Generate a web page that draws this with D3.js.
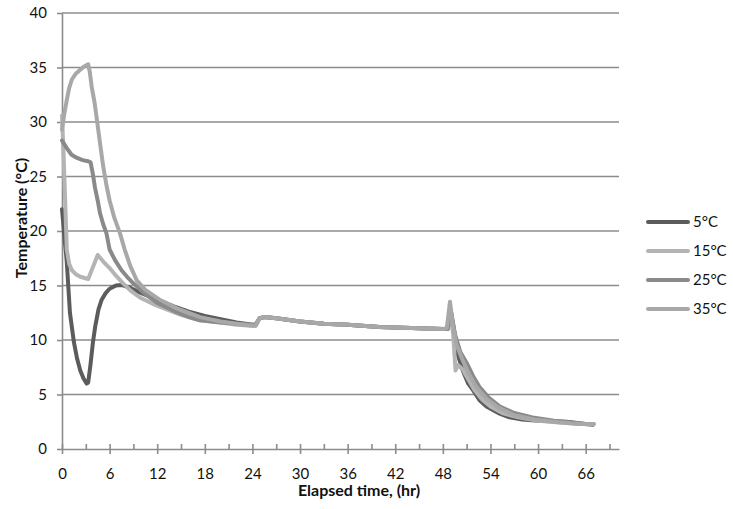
<!DOCTYPE html>
<html>
<head>
<meta charset="utf-8">
<script src="https://cdn.jsdelivr.net/npm/d3@7"></script>
<style>
  body { margin: 0; background: #fff; }
  text { font-family: Lato, "Open Sans", sans-serif; fill: #111; }
</style>
</head>
<body>
<div id="chart"></div>
<script>
// series: [elapsed hours, temperature °C]
var s5 = [[0,22],[0.3,19.5],[0.6,17.2],[1.0,12.5],[1.5,9.8],[1.9,8.3],[2.3,7.2],[2.7,6.5],[3.1,6.0],[3.3,6.1],
  [3.6,7.8],[3.9,9.8],[4.2,11.3],[4.6,12.8],[5.0,13.7],[5.5,14.3],[6.0,14.7],[6.8,15.0],[7.5,15.05],[8.5,14.8],
  [10,14.3],[12,13.7],[14,13.1],[16,12.6],[18,12.2],[20,11.9],[22,11.6],[24,11.4],[24.4,11.4],[24.9,12.0],
  [25.5,12.1],[27,12.0],[30,11.7],[33,11.5],[36,11.4],[40,11.2],[44,11.1],[48,11.0],[48.6,11.0],[49.0,12.6],
  [49.4,11.0],[49.9,8.6],[50.5,7.2],[51.2,6.0],[51.8,5.4],[52.6,4.5],[53.5,3.9],[55,3.3],[56.4,2.9],[58,2.7],
  [60,2.6],[63.6,2.5],[66,2.3],[67,2.3]];
var s15 = [[0,30.6],[0.2,27],[0.4,22.8],[0.6,18.3],[0.9,17.0],[1.25,16.4],[1.8,16.0],[2.3,15.8],[3.3,15.6],
  [3.9,16.7],[4.5,17.8],[5.2,17.2],[6.0,16.6],[6.8,15.9],[7.7,15.2],[8.7,14.5],[9.8,13.9],[11.5,13.3],[13.2,12.8],
  [15,12.3],[17.4,11.8],[20,11.6],[22,11.4],[24,11.3],[24.4,11.3],[24.9,12.0],[25.5,12.1],[27,12.0],[30,11.7],
  [33,11.5],[36,11.4],[40,11.2],[44,11.1],[48,11.0],[48.6,11.0],[49.0,12.2],[49.3,10.5],[49.6,7.2],[49.9,7.7],
  [50.5,7.3],[51.2,6.4],[52,5.4],[53,4.5],[54,3.9],[55.5,3.3],[57.5,2.9],[60,2.6],[63,2.4],[66,2.3],[67,2.3]];
var s25 = [[0,28.3],[0.6,27.6],[1.2,27.0],[1.9,26.7],[2.6,26.5],[3.3,26.4],[3.6,26.3],[3.9,25.2],[4.15,24.0],
  [4.5,22.8],[4.8,21.6],[5.2,20.6],[5.6,19.8],[6.0,18.3],[6.7,17.3],[7.5,16.4],[8.2,15.8],[9.0,15.2],[10.5,14.2],
  [12,13.4],[14,12.7],[16,12.1],[17.4,11.8],[20,11.6],[22,11.5],[24,11.4],[24.4,11.4],[24.9,12.0],[25.5,12.1],
  [27,12.0],[30,11.7],[33,11.5],[36,11.4],[40,11.2],[44,11.1],[48,11.0],[48.6,11.0],[49.0,12.8],[49.5,10.6],
  [50.2,8.9],[51,7.9],[51.8,6.7],[52.6,5.7],[53.8,4.7],[55.2,3.9],[57,3.3],[59.3,2.9],[62,2.6],[64.5,2.4],
  [66.9,2.2]];
var s35 = [[0,29.3],[0.3,30.8],[0.6,32.0],[0.9,33.1],[1.25,33.9],[1.7,34.4],[2.3,34.8],[2.8,35.1],[3.3,35.3],
  [3.5,34.6],[3.75,33.2],[4.1,31.8],[4.4,30.2],[4.8,28.0],[5.2,25.9],[5.6,24.2],[6.0,22.8],[6.6,21.2],[7.3,19.8],
  [7.9,18.3],[8.6,16.8],[9.4,15.5],[10.5,14.6],[12.3,13.7],[14.5,12.9],[17.4,12.1],[20,11.7],[22,11.5],
  [24,11.3],[24.4,11.3],[24.9,12.0],[25.5,12.1],[27,12.0],[30,11.7],[33,11.5],[36,11.4],[40,11.2],[44,11.1],
  [48,11.0],[48.5,11.1],[48.9,13.5],[49.2,11.6],[49.7,9.6],[50.4,8.3],[51.2,7.0],[52.2,5.7],[53.5,4.6],
  [55,3.8],[57,3.1],[59.5,2.7],[62,2.5],[65,2.3],[67,2.3]];

var seriesNames = ["5°C", "15°C", "25°C", "35°C"];
var seriesData = [s5, s15, s25, s35];
var colors = ["#5c5c5c", "#b4b4b4", "#8a8a8a", "#a8a8a8"];

var yTicks = [0, 5, 10, 15, 20, 25, 30, 35, 40];
var xTicks = [0, 6, 12, 18, 24, 30, 36, 42, 48, 54, 60, 66];
var xMinor = [3, 9, 15, 21, 27, 33, 39, 45, 51, 57, 63, 69];

var W = 733, H = 509;
var svg = d3.select("#chart").append("svg")
    .attr("width", W)
    .attr("height", H);

var x = d3.scaleLinear().domain([0, 70.2]).range([62, 619]);
var y = d3.scaleLinear().domain([0, 40]).range([449, 13]);

// horizontal gridlines
svg.append("g")
  .selectAll("line")
  .data(yTicks.filter(function(d) { return d > 0; }))
  .enter().append("line")
    .attr("x1", x(0))
    .attr("x2", x(70.2))
    .attr("y1", function(d) { return y(d); })
    .attr("y2", function(d) { return y(d); })
    .attr("stroke", "#8c8c8c")
    .attr("stroke-width", 1.6);

// y axis
var yAxis = svg.append("g")
    .attr("transform", "translate(" + x(0) + ",0)")
    .call(d3.axisLeft(y).tickValues(yTicks).tickSize(5).tickPadding(10).tickSizeOuter(0));
yAxis.select(".domain").attr("stroke", "#8c8c8c").attr("stroke-width", 1.6);
yAxis.selectAll(".tick line").attr("stroke", "#8c8c8c").attr("stroke-width", 1.6);
yAxis.selectAll("text").style("font-size", "15px").attr("fill", "#111");

// x axis minor ticks (inside)
var xMinorAxis = svg.append("g")
    .attr("transform", "translate(0," + y(0) + ")")
    .call(d3.axisBottom(x).tickValues(xMinor).tickSize(-5).tickFormat(""));
xMinorAxis.select(".domain").remove();
xMinorAxis.selectAll(".tick line").attr("stroke", "#8c8c8c").attr("stroke-width", 1.6);

// x axis major ticks (cross)
var xAxis = svg.append("g")
    .attr("transform", "translate(0," + y(0) + ")")
    .call(d3.axisBottom(x).tickValues(xTicks).tickSize(5).tickSizeOuter(0));
xAxis.select(".domain").attr("stroke", "#8c8c8c").attr("stroke-width", 1.6);
xAxis.selectAll(".tick line").attr("y1", -5).attr("y2", 5)
    .attr("stroke", "#8c8c8c").attr("stroke-width", 1.6);
xAxis.selectAll("text").attr("y", 19).style("font-size", "15px").attr("fill", "#111");

// series lines
var line = d3.line()
    .x(function(d) { return x(d[0]); })
    .y(function(d) { return y(d[1]); });

svg.append("g")
  .selectAll("path")
  .data(seriesData)
  .enter().append("path")
    .attr("d", line)
    .attr("fill", "none")
    .attr("stroke", function(d, i) { return colors[i]; })
    .attr("stroke-width", 4)
    .attr("stroke-linejoin", "round")
    .attr("stroke-linecap", "round");

// legend
var legend = svg.append("g")
  .selectAll("g")
  .data(seriesNames)
  .enter().append("g")
    .attr("transform", function(d, i) { return "translate(648," + (222 + i * 29) + ")"; });
legend.append("line")
    .attr("x1", 0).attr("x2", 40)
    .attr("stroke", function(d, i) { return colors[i]; })
    .attr("stroke-width", 4)
    .attr("stroke-linecap", "round");
legend.append("text")
    .attr("x", 45)
    .attr("dy", "0.35em")
    .style("font-size", "15px")
    .text(function(d) { return d; });

// axis titles
svg.append("text")
    .attr("x", 359)
    .attr("y", 496)
    .attr("text-anchor", "middle")
    .style("font-size", "16px")
    .style("font-weight", "bold")
    .text("Elapsed time, (hr)");

svg.append("text")
    .attr("transform", "translate(27,218) rotate(-90)")
    .attr("text-anchor", "middle")
    .style("font-size", "16px")
    .style("font-weight", "bold")
    .text("Temperature (°C)");
</script>
</body>
</html>
